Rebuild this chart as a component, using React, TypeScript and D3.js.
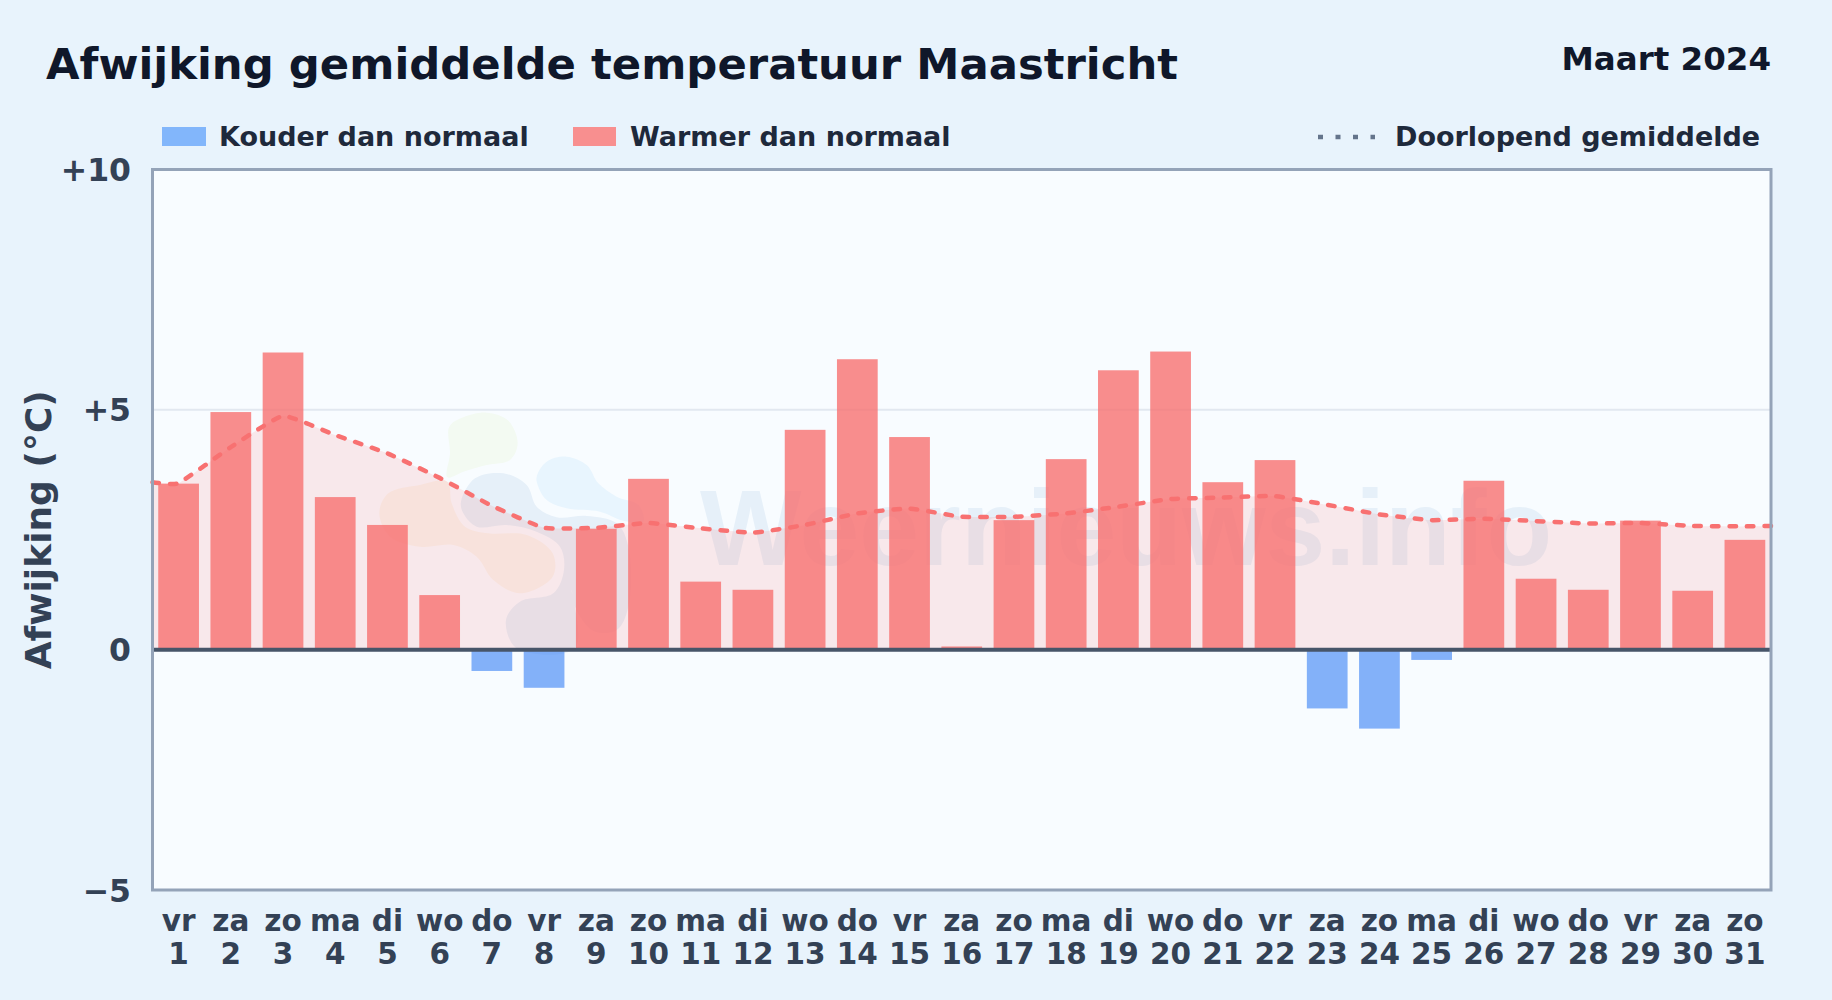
import React from "react";
import * as d3 from "d3";

const weekdays = ["vr","za","zo","ma","di","wo","do","vr","za","zo","ma","di","wo","do","vr","za","zo","ma","di","wo","do","vr","za","zo","ma","di","wo","do","vr","za","zo"];
const days = d3.range(1, 32);
const anomalies = [3.46,4.95,6.19,3.18,2.6,1.14,-0.44,-0.79,2.52,3.56,1.42,1.25,4.58,6.05,4.43,0.07,2.7,3.97,5.82,6.21,3.49,3.95,-1.22,-1.64,-0.21,3.52,1.48,1.25,2.69,1.23,2.29];
const runningMean = [3.47,4.22,4.87,4.47,4.09,3.58,3.0,2.54,2.54,2.64,2.53,2.44,2.6,2.84,2.94,2.77,2.77,2.84,2.98,3.14,3.17,3.2,3.02,2.82,2.7,2.73,2.68,2.63,2.64,2.58,2.57];
const runningMeanEdges = [3.49, 2.58];
const yTicks = [10, 5, 0, -5];
const yTickLabels = ["+10", "+5", "0", "−5"];

const W = 1832, H = 1000;
const M = { l: 152.5, r: 1771, t: 169.5, b: 890 };
const FONT = "'DejaVu Sans', sans-serif";

const logoGreen: [number, number][] = [[268,110],[310,82],[380,68],[445,92],[473,160],[450,210],[380,225],[310,245],[262,262],[270,190]];
const logoOrange: [number, number][] = [[58,370],[85,310],[180,285],[262,275],[275,340],[315,410],[385,430],[500,435],[578,490],[578,560],[480,610],[400,570],[350,500],[280,465],[180,470],[90,440]];
const logoDark: [number, number][] = [[303,335],[345,265],[430,250],[500,285],[530,350],[590,382],[680,378],[770,400],[805,470],[805,650],[770,720],[700,722],[645,650],[635,600],[645,775],[470,775],[438,690],[480,635],[580,610],[612,540],[600,470],[530,425],[440,405],[350,410],[310,370]];
const logoLight: [number, number][] = [[530,260],[560,215],[620,200],[680,225],[715,280],[770,320],[835,345],[850,395],[790,392],[720,365],[620,355],[560,330],[535,290]];
const logoBlobs: { pts: [number, number][]; fill: string }[] = [
  { pts: logoGreen, fill: "#f3faf2" },
  { pts: logoOrange, fill: "#f9f5ee" },
  { pts: logoLight, fill: "#e8f5fe" },
  { pts: logoDark, fill: "#e6f0f9" },
];

export default function App() {
  const x = d3.scaleBand<number>().domain(days).range([M.l, M.r]).paddingInner(0.22).paddingOuter(0.11);
  const y = d3.scaleLinear().domain([-5, 10]).range([M.b, M.t]);
  const xLine = d3.scaleLinear().domain([0.5, 31.5]).range([M.l, M.r]);

  const linePts: [number, number][] = [
    [0.5, runningMeanEdges[0]],
    ...days.map((d, i) => [d, runningMean[i]] as [number, number]),
    [31.5, runningMeanEdges[1]],
  ];
  const curve = d3.curveCardinal.tension(0.6);
  const line = d3.line<[number, number]>().x(d => xLine(d[0])).y(d => y(d[1])).curve(curve);
  const area = d3.area<[number, number]>().x(d => xLine(d[0])).y0(y(0)).y1(d => y(d[1])).curve(curve);
  const blob = d3.line<[number, number]>().x(d => 360 + d[0] / 3).y(d => 390 + d[1] / 3).curve(d3.curveCatmullRomClosed.alpha(0.5));

  return (
    <svg width={W} height={H} viewBox={`0 0 ${W} ${H}`} style={{ position: "absolute", left: 0, top: 0, display: "block", fontFamily: FONT, fontWeight: 700 }}>
      <rect width={W} height={H} fill="#e8f3fc" />
      <text x={46} y={79} fontSize={43.35} fill="#0f172a">Afwijking gemiddelde temperatuur Maastricht</text>
      <text x={1771} y={70} fontSize={32.5} textAnchor="end" fill="#0f172a">Maart 2024</text>

      <rect x={162} y={127} width={44} height={19} fill="#82b6fb" />
      <text x={219} y={146} fontSize={27} fill="#1e293b">Kouder dan normaal</text>
      <rect x={573} y={127} width={43} height={19} fill="#f88f8f" />
      <text x={630} y={146} fontSize={27} fill="#1e293b">Warmer dan normaal</text>
      <line x1={1318} x2={1375} y1={137} y2={137} stroke="#64748b" strokeWidth={4.5} strokeDasharray="5 12.5" />
      <text x={1395} y={146} fontSize={27} fill="#1e293b">Doorlopend gemiddelde</text>

      <rect x={M.l} y={M.t} width={M.r - M.l} height={M.b - M.t} fill="#f8fcff" />
      {logoBlobs.map((b, i) => <path key={i} d={blob(b.pts) ?? ""} fill={b.fill} />)}
      <text x={700} y={565} fontSize={107.5} fontFamily="'Liberation Sans', sans-serif" fill="#e6f0f9">Weernieuws.info</text>

      <line x1={M.l} x2={M.r} y1={y(5)} y2={y(5)} stroke="#e2e8f0" strokeWidth={2} />
      <path d={area(linePts) ?? ""} fill="#f87171" fillOpacity={0.14} />
      {days.map((d, i) => {
        const v = anomalies[i];
        return (
          <rect key={d} x={x(d)} width={x.bandwidth()} y={v >= 0 ? y(v) : y(0)} height={Math.abs(y(v) - y(0))}
            fill={v >= 0 ? "#f87171" : "#3b82f6"} fillOpacity={v >= 0 ? 0.8 : 0.62} />
        );
      })}
      <path d={line(linePts) ?? ""} fill="none" stroke="#f87171" strokeWidth={4.5} strokeDasharray="6.5 11" strokeLinecap="round" />
      <line x1={M.l} x2={M.r} y1={y(0)} y2={y(0)} stroke="#475569" strokeWidth={4} />
      <rect x={M.l} y={M.t} width={M.r - M.l} height={M.b - M.t} fill="none" stroke="#94a3b8" strokeWidth={3} />

      {yTicks.map((t, i) => (
        <text key={t} x={131} y={y(t) + 11.5} fontSize={31.5} textAnchor="end" fill="#334155">{yTickLabels[i]}</text>
      ))}
      <text transform={`translate(50.5,${(M.t + M.b) / 2}) rotate(-90)`} fontSize={36} textAnchor="middle" fill="#334155">Afwijking (°C)</text>
      {days.map((d, i) => (
        <g key={d} textAnchor="middle" fontSize={29.5} fill="#334155">
          <text x={x(d)! + x.bandwidth() / 2} y={931}>{weekdays[i]}</text>
          <text x={x(d)! + x.bandwidth() / 2} y={964}>{d}</text>
        </g>
      ))}
    </svg>
  );
}
